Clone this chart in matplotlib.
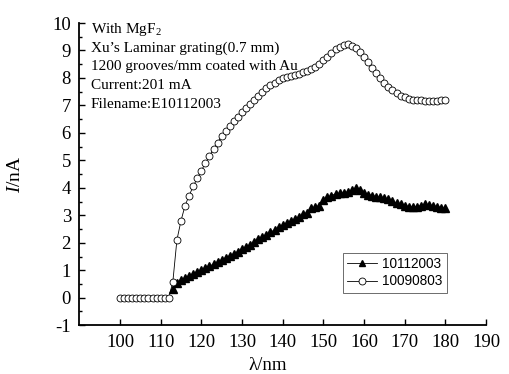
import numpy as np
import matplotlib
matplotlib.use("Agg")
import matplotlib.pyplot as plt
from matplotlib.ticker import MultipleLocator

plt.rcParams['font.family'] = ['Liberation Serif', 'DejaVu Serif']
plt.rcParams['mathtext.fontset'] = 'custom'
plt.rcParams['mathtext.rm'] = 'Liberation Serif'
plt.rcParams['mathtext.it'] = 'Liberation Serif:italic'
plt.rcParams['axes.unicode_minus'] = False

# series 10112003 (triangles)
wl_tri = np.arange(113, 181)
cur_tri = [0.30, 0.55, 0.65, 0.72, 0.80, 0.88, 0.95, 1.02, 1.08, 1.15,
           1.22, 1.30, 1.38, 1.46, 1.53, 1.60, 1.68, 1.76, 1.84, 1.93,
           2.02, 2.12, 2.20, 2.29, 2.38, 2.47, 2.56, 2.64, 2.71, 2.78,
           2.86, 2.94, 3.03, 3.10, 3.25, 3.30, 3.35, 3.55, 3.65, 3.72,
           3.78, 3.80, 3.82, 3.85, 3.92, 3.98, 3.92, 3.80, 3.75, 3.72,
           3.68, 3.65, 3.62, 3.58, 3.52, 3.45, 3.40, 3.35, 3.32, 3.30,
           3.32, 3.35, 3.40, 3.38, 3.35, 3.32, 3.28, 3.25]

# series 10090803 (circles)
wl_circ = np.arange(100, 181)
cur_circ = [0, 0, 0, 0, 0, 0, 0, 0, 0, 0, 0, 0, 0,
            0.58, 2.10, 2.80, 3.35, 3.72, 4.05, 4.35, 4.62, 4.90, 5.15,
            5.42, 5.65, 5.88, 6.08, 6.25, 6.42, 6.58, 6.75, 6.90, 7.05,
            7.20, 7.35, 7.48, 7.62, 7.73, 7.83, 7.92, 7.98, 8.04, 8.08,
            8.12, 8.15, 8.20, 8.26, 8.33, 8.41, 8.52, 8.65, 8.78, 8.92,
            9.05, 9.14, 9.20, 9.22, 9.18, 9.10, 8.95, 8.78, 8.58, 8.38,
            8.18, 7.99, 7.82, 7.68, 7.55, 7.44, 7.35, 7.29, 7.24, 7.21,
            7.19, 7.18, 7.17, 7.17, 7.17, 7.17, 7.18, 7.20]

notes = ["With MgF$_\\mathrm{2}$",
         "Xu\u2019s Laminar grating(0.7 mm)",
         "1200 grooves/mm coated with Au",
         "Current:201 mA",
         "Filename:E10112003"]

fig = plt.figure(figsize=(5.09, 3.74), dpi=100)
ax = fig.add_axes([0.1558, 0.1305, 0.799, 0.808])

ax.plot(wl_tri, cur_tri, color='black', lw=0.6, marker='^', ms=6,
        mfc='black', mec='black', label='10112003')
ax.plot(wl_circ, cur_circ, color='black', lw=0.6, marker='o', ms=5,
        mfc='white', mec='black', mew=0.6, label='10090803')

ax.set_xlim(90, 190)
ax.set_ylim(-1, 10)
ax.set_xticks(np.arange(100, 191, 10))
ax.set_yticks(np.arange(-1, 11, 1))
ax.yaxis.set_minor_locator(MultipleLocator(0.5))

for s in ['top', 'right']:
    ax.spines[s].set_visible(False)
for s in ['left', 'bottom']:
    ax.spines[s].set_linewidth(1.3)

ax.tick_params(axis='both', which='major', direction='in', length=4.5,
               width=1.0, labelsize=13.5, pad=6)
ax.tick_params(axis='y', which='minor', direction='in', length=2.5, width=1.0)

ax.set_xlabel('\u03bb/nm', fontsize=13.5)
ax.set_ylabel('$\\it{I}$/nA', fontsize=14)
ax.xaxis.set_label_coords(0.464, -0.105)
ax.yaxis.set_label_coords(-0.135, 0.5)

for i, t in enumerate(notes):
    fig.text(91 / 509, 1 - (33 + i * 18.7) / 374, t, fontsize=11,
             va='baseline', ha='left')

leg = ax.legend(loc='upper left', bbox_to_anchor=(0.648, 0.239),
                prop={'family': 'Liberation Sans', 'size': 9.8},
                frameon=True, fancybox=False, edgecolor='#555555',
                framealpha=1, borderpad=0.3, handlelength=2.2,
                handletextpad=0.4, labelspacing=0.25, borderaxespad=0)
leg.get_frame().set_linewidth(0.6)
for h in leg.legend_handles:
    h.set_markersize(5)

fig.savefig('out.png', dpi=100)
